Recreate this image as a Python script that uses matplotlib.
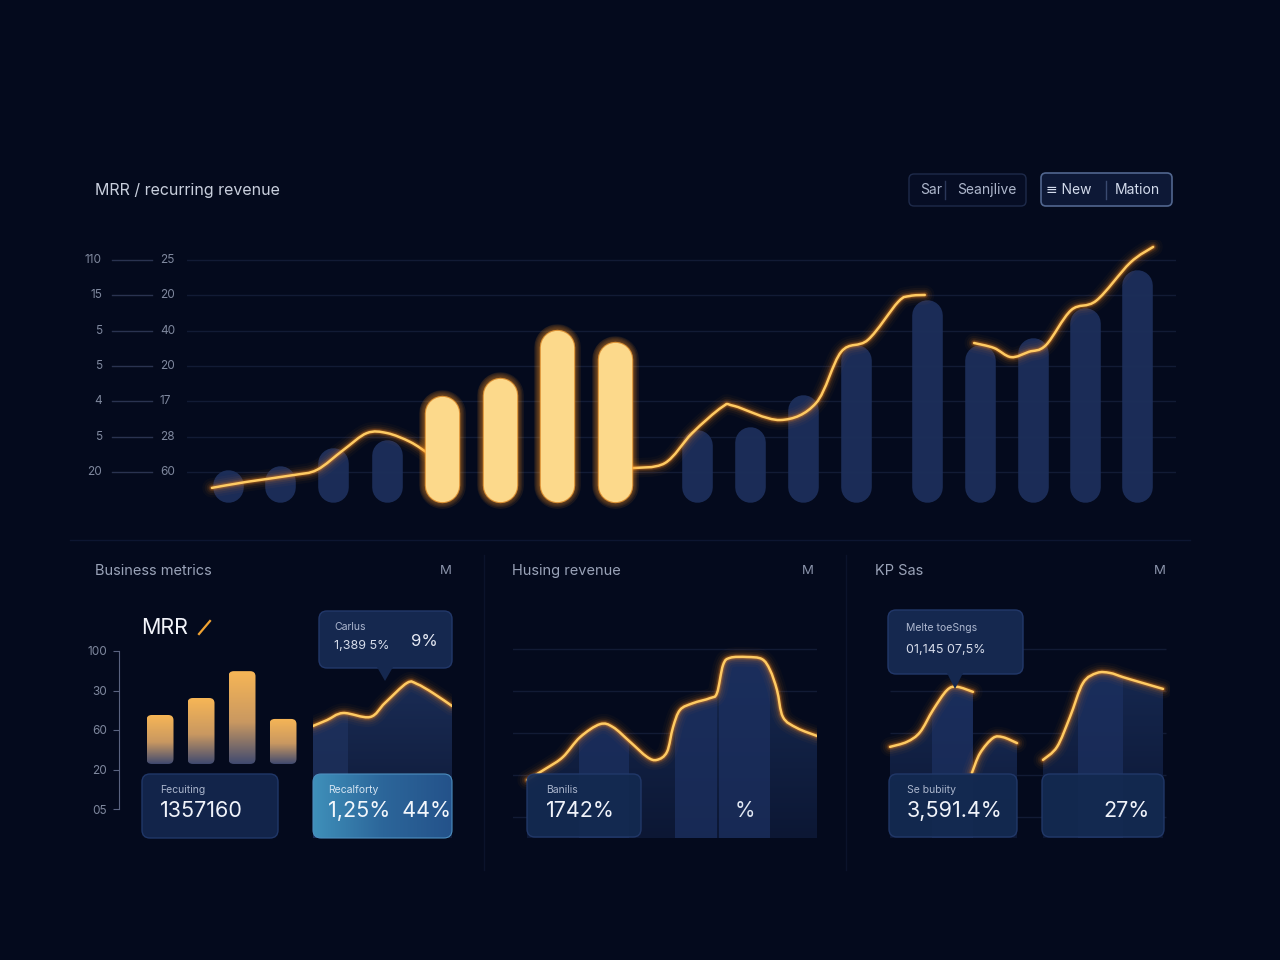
import numpy as np
import matplotlib
matplotlib.use("Agg")
from matplotlib import pyplot as plt
from matplotlib.patches import FancyBboxPatch, Polygon, PathPatch
from matplotlib.path import Path
from matplotlib.colors import LinearSegmentedColormap

plt.rcParams['font.family'] = ['Inter', 'DejaVu Sans']

# ---------------- data ----------------
# main chart: MRR bars (period positions have gaps) + trend line
periods = [0, 0.97, 1.96, 2.97, 4.0, 5.07, 6.14, 7.22, 8.75, 9.74, 10.73, 11.72, 13.04, 14.03, 15.02, 15.99, 16.96]
mrr = [1.0, 1.17, 1.68, 1.9, 3.15, 3.66, 5.02, 4.68, 2.19, 2.27, 3.18, 4.6, 5.87, 4.6, 4.79, 5.65, 6.72]
highlight = [False, False, False, False, True, True, True, True,
             False, False, False, False, False, False, False, False, False]
trend_x = [-0.30, 0.35, 1.21, 1.66, 2.15, 2.59, 2.97, 3.40, 3.72, np.nan,
           7.54, 8.15, 8.66, 9.22, 9.44, 10.30, 10.97, 11.44, 11.94, 12.50, 12.72, 13.00, np.nan,
           13.92, 14.29, 14.61, 14.94, 15.26, 15.73, 16.20, 16.83, 17.26]
trend_y = [0.55, 0.72, 0.91, 1.06, 1.62, 2.10, 2.10, 1.85, 1.54, np.nan,
           1.11, 1.25, 2.10, 2.84, 2.87, 2.47, 2.95, 4.40, 4.74, 5.81, 5.98, 6.01, np.nan,
           4.65, 4.51, 4.25, 4.40, 4.59, 5.58, 5.85, 6.92, 7.37]
outer_ticks = ['110', '15', '5', '5', '4', '5', '20']
inner_ticks = ['25', '20', '40', '20', '17', '28', '60']

# panel 1: business metrics
biz_bars = [2.38, 2.81, 3.49, 2.28]
biz_base = 1.14
biz_ticks = ['05', '20', '60', '30', '100']
carlus_x = [0, 1.01, 2.16, 4.10, 5.18, 6.76, 7.48, 8.63, 10.0]
carlus_y = [6.67, 7.02, 7.44, 7.20, 8.04, 9.23, 9.17, 8.63, 7.86]

# panel 2: husing revenue
husing_x = [0.92, 2.24, 3.29, 4.41, 5.72, 6.58, 7.70, 8.82, 9.47, 10.13, 10.53, 10.99, 11.84,
            12.96, 13.42, 13.82, 14.28, 15.39, 16.38, 16.91, 17.37, 17.76, 18.68, 20.0]
husing_y = [1.88, 2.17, 2.43, 2.90, 3.21, 3.14, 2.79, 2.43, 2.36, 2.55, 3.14, 3.55, 3.71,
            3.83, 3.95, 4.62, 4.79, 4.81, 4.76, 4.50, 4.02, 3.38, 3.12, 2.93]

# panel 3: KP Sas
kp1_x = [0.69, 1.86, 2.76, 3.66, 4.62, 5.31, 6.41]
kp1_y = [2.67, 2.79, 3.02, 3.55, 4.02, 4.10, 3.98]
kp2_x = [6.34, 6.90, 7.79, 8.48, 9.45]
kp2_y = [2.05, 2.52, 2.88, 2.90, 2.76]
kp3_x = [11.24, 12.21, 13.10, 14.0, 14.97, 15.86, 16.76, 17.93, 19.52]
kp3_y = [2.36, 2.67, 3.38, 4.19, 4.43, 4.43, 4.33, 4.21, 4.05]

# ---------------- style ----------------
W, H = 1280, 960
BG = '#040a1d'
GRID = '#121b35'
BLUE_BAR = '#1d2f5b'
TXT = '#c9cfdd'
MUTED = '#7f889e'
CARD = '#12244a'
CARD_EDGE = '#203768'

fig = plt.figure(figsize=(12.8, 9.6), dpi=100)
fig.patch.set_facecolor(BG)


def px_box(x0, y0, x1, y1):
    return [x0 / W, 1 - y1 / H, (x1 - x0) / W, (y1 - y0) / H]


def smooth_path(xs, ys):
    # catmull-rom through the read points, drawn as cubic beziers
    pts = np.column_stack([xs, ys]).astype(float)
    n = len(pts)
    verts, codes = [pts[0]], [Path.MOVETO]
    for i in range(n - 1):
        p0 = pts[i - 1] if i > 0 else pts[i]
        p1, p2 = pts[i], pts[i + 1]
        p3 = pts[i + 2] if i + 2 < n else pts[i + 1]
        verts += [p1 + (p2 - p0) / 6, p2 - (p3 - p1) / 6, p2]
        codes += [Path.CURVE4] * 3
    return Path(verts, codes)


def split_nan(xs, ys):
    segs, cx, cy = [], [], []
    for x, y in zip(xs, ys):
        if np.isnan(x):
            segs.append((cx, cy)); cx, cy = [], []
        else:
            cx.append(x); cy.append(y)
    segs.append((cx, cy))
    return segs


def glow_line(ax, xs, ys, z=5, core='#ffcb63', glow='#ff8a1a', lw=1.8):
    for sx, sy in split_nan(xs, ys):
        path = smooth_path(sx, sy)
        for w, a in [(14, 0.03), (10.5, 0.05), (7.5, 0.08), (5, 0.14), (3.4, 0.25)]:
            ax.add_patch(PathPatch(path, fc='none', ec=glow, lw=w, alpha=a,
                                   capstyle='round', joinstyle='round', zorder=z))
        ax.add_patch(PathPatch(path, fc='none', ec=core, lw=lw,
                               capstyle='round', joinstyle='round', zorder=z + 0.1))


def gradient_area(ax, xs, ys, y0, c_top, c_bot, z=1):
    p = smooth_path(xs, ys)
    verts = list(p.vertices) + [(xs[-1], y0), (xs[0], y0), (xs[0], ys[0])]
    codes = list(p.codes) + [Path.LINETO, Path.LINETO, Path.CLOSEPOLY]
    path = Path(verts, codes)
    cmap = LinearSegmentedColormap.from_list('g', [c_bot, c_top])
    im = ax.imshow(np.linspace(0, 1, 256).reshape(-1, 1), cmap=cmap, aspect='auto',
                   origin='lower', extent=(min(xs), max(xs), y0, max(ys) + 0.2), zorder=z)
    im.set_clip_path(path, ax.transData)
    return path


def card(ax, x0, y0, x1, y1, fc=CARD, ec=CARD_EDGE, r=8, lw=1.0, alpha=1.0, z=2):
    p = FancyBboxPatch((x0 + r, y0 + r), x1 - x0 - 2 * r, y1 - y0 - 2 * r,
                       boxstyle=f'round,pad={r}', fc=fc, ec=ec, lw=lw, alpha=alpha, zorder=z)
    ax.add_patch(p)
    return p


# background decoration layer
back = fig.add_axes([0, 0, 1, 1], zorder=0)
back.set_xlim(0, W); back.set_ylim(H, 0); back.axis('off')
back.plot([70, 1190], [540, 540], color='#0d1631', lw=1)
back.plot([484, 484], [555, 870], color='#0b132b', lw=1)
back.plot([846, 846], [555, 870], color='#0b132b', lw=1)

# ---------------- main chart ----------------
ax = fig.add_axes(px_box(187, 240, 1176, 510), zorder=1)
ax.set_facecolor('none'); ax.axis('off')
ux, uy = 53.6, 35.33  # pixels per data unit
ax.set_xlim((187 - 228) / ux, (1176 - 228) / ux)
ax.set_ylim((507.3 - 510) / uy, (507.3 - 240) / uy)

levels = list(range(7, 0, -1))
for lvl, o, i in zip(levels, outer_ticks, inner_ticks):
    ax.axhline(lvl, color=GRID, lw=1, zorder=0)
    ax.text((102 - 228) / ux, lvl, o, color=MUTED, fontsize=8.5, ha='right', va='center', clip_on=False)
    ax.plot([(112 - 228) / ux, (152 - 228) / ux], [lvl, lvl], color='#2a3350', lw=1, clip_on=False)
    ax.text((160 - 228) / ux, lvl, i, color=MUTED, fontsize=8.5, ha='left', va='center', clip_on=False)

blue_pt = 22.0
gold_pt = 24.0
base = 0.15
for x, v, hl in zip(periods, mrr, highlight):
    bw = gold_pt if hl else blue_pt
    r = bw / 72 * 100 / 2 / uy
    y0 = base + r
    y1 = max(v - r, y0 + 0.06)
    if hl:
        for k in range(6, 0, -1):
            ax.plot([x, x], [y0, y1], color='#ff9820', lw=bw + 1.6 * k, alpha=0.09,
                    solid_capstyle='round', zorder=4, clip_on=False)
        ax.plot([x, x], [y0, y1], color='#f7a43a', lw=bw + 1.5, alpha=0.8,
                solid_capstyle='round', zorder=4.1, clip_on=False)
        ax.plot([x, x], [y0, y1], color='#fcd98b', lw=bw, solid_capstyle='round', zorder=4.2, clip_on=False)
    else:
        ax.plot([x, x], [y0, y1], color=BLUE_BAR, lw=bw, alpha=0.95, solid_capstyle='round',
                zorder=2, clip_on=False)

glow_line(ax, trend_x, trend_y, z=3)

# ---------------- panel 1: business metrics ----------------
a1 = fig.add_axes(px_box(119, 640, 305, 820), zorder=1)
a1.set_facecolor('none')
for s in ['top', 'right', 'bottom']:
    a1.spines[s].set_visible(False)
a1.spines['left'].set_color('#5a6380')
a1.spines['left'].set_bounds(0, 4)
a1.set_xticks([])
a1.set_yticks(range(5))
a1.set_yticklabels(biz_ticks)
a1.tick_params(axis='y', colors='#5a6380', labelcolor=MUTED, labelsize=8.5, length=4.5, pad=4)

bar_cmap = LinearSegmentedColormap.from_list('ob', [(0, '#404a70'), (0.45, '#c99861'), (1, '#f7b656')])
bw = 27 / 41
for i, v in enumerate(biz_bars):
    p = FancyBboxPatch((i - bw / 2, biz_base), bw, v - biz_base,
                       boxstyle='round,pad=0,rounding_size=0.13', fc='none', ec='none')
    a1.add_patch(p)
    im = a1.imshow(np.linspace(0, 1, 256).reshape(-1, 1), cmap=bar_cmap, aspect='auto', origin='lower',
                   extent=(i - bw / 2, i + bw / 2, biz_base, v), zorder=2)
    im.set_clip_path(p)
a1.set_xlim((119 - 160) / 41, (305 - 160) / 41)
a1.set_ylim((809 - 820) / 39.5, (809 - 640) / 39.5)

a1b = fig.add_axes(px_box(313, 670, 452, 838), zorder=1)
a1b.axis('off')
path = gradient_area(a1b, carlus_x, carlus_y, 0, '#1a2c55', '#0d1835')
col = a1b.bar([1.25], [10], width=2.5, color='#1f3360', alpha=0.7, zorder=1.5)
col[0].set_clip_path(path, a1b.transData)
glow_line(a1b, carlus_x, carlus_y, z=3)
a1b.set_xlim(0, 10); a1b.set_ylim(0, 10)

# ---------------- panel 2: husing revenue ----------------
a2 = fig.add_axes(px_box(513, 640, 817, 838), zorder=1)
a2.axis('off')
for lvl in range(1, 6):
    a2.axhline(lvl, color=GRID, lw=1, zorder=0)
path = gradient_area(a2, husing_x, husing_y, 0.5, '#172a52', '#0c1734')
cols = a2.bar([5.99, 12.04, 15.23], [6, 6, 6], width=[3.29, 2.76, 3.36], bottom=0.5,
              color='#1c3060', alpha=0.75, zorder=1.5)
for c in cols:
    c.set_clip_path(path, a2.transData)
glow_line(a2, husing_x, husing_y, z=3)
a2.set_xlim(0, 20); a2.set_ylim(0.5, (859 - 640) / 42)

# ---------------- panel 3: KP Sas ----------------
a3 = fig.add_axes(px_box(880, 640, 1170, 838), zorder=1)
a3.axis('off')
a3.hlines(range(1, 6), 0.69, 19.7, color=GRID, lw=1, zorder=0)
for kx, ky in [(kp1_x, kp1_y), (kp2_x, kp2_y), (kp3_x, kp3_y)]:
    path = gradient_area(a3, kx, ky, 0.5, '#162850', '#0c1734')
    cols = a3.bar([5.0, 15.21], [6, 6], width=[2.82, 3.1], bottom=0.5,
                  color='#1c3060', alpha=0.75, zorder=1.5)
    for c in cols:
        c.set_clip_path(path, a3.transData)
    glow_line(a3, kx, ky, z=3)
a3.set_xlim(0, 20); a3.set_ylim(0.5, (859 - 640) / 42)

# ---------------- front decoration: text, cards, buttons ----------------
front = fig.add_axes([0, 0, 1, 1], zorder=5)
front.set_xlim(0, W); front.set_ylim(H, 0); front.axis('off')

front.text(95, 190, 'MRR / recurring revenue', color=TXT, fontsize=11.5, va='center')

# buttons
card(front, 909, 174, 1026, 206, fc='#060d24', ec='#1e2a4a', r=5)
front.text(931, 190, 'Sar', color='#aeb7cc', fontsize=10, ha='center', va='center')
front.plot([945, 945], [181, 199], color='#2a3658', lw=1)
front.text(987, 190, 'Seanjlive', color='#aeb7cc', fontsize=10, ha='center', va='center')
card(front, 1041, 173, 1172, 206, fc='#0d1836', ec='#51668f', r=5, lw=1.2)
front.text(1069, 190, '\u2261 New', color='#d3dbec', fontsize=10, ha='center', va='center')
front.plot([1106, 1106], [181, 199], color='#3a4a70', lw=1)
front.text(1137, 190, 'Mation', color='#d3dbec', fontsize=10, ha='center', va='center')

# panel headers
for x, t in [(95, 'Business metrics'), (512, 'Husing revenue'), (875, 'KP Sas')]:
    front.text(x, 571, t, color='#9aa3b8', fontsize=10.5, va='center')
for x in [446, 808, 1160]:
    front.text(x, 571, 'M', color='#8a93aa', fontsize=9.5, ha='center', va='center')

front.text(141, 628, 'MRR', color='#f2f4fa', fontsize=15.5, va='center')
front.plot([199, 210], [634, 621], color='#f0a232', lw=1.6)

# panel 1 tooltip + cards
card(front, 319, 611, 452, 668, fc='#15284f', ec='#22386a', r=8)
front.add_patch(Polygon([(377, 667), (393, 667), (385, 681)], closed=True, fc='#15284f', ec='none', zorder=3))
front.text(334, 627, 'Carlus', color='#aeb8d0', fontsize=7.5, va='center')
front.text(334, 646, '1,389 5%', color='#d6dcea', fontsize=9, va='center')
front.text(411, 641, '9%', color='#e6eaf4', fontsize=12, va='center')

card(front, 142, 774, 278, 838)
front.text(160, 790, 'Fecuiting', color='#aab5cc', fontsize=7.5, va='center')
front.text(160, 811, '1357160', color='#f0f3fa', fontsize=15.5, va='center')

p = card(front, 313, 774, 452, 838, fc='none', ec='#4d8fc0', lw=0.8)
hcmap = LinearSegmentedColormap.from_list('h', ['#3f90ba', '#2c669a', '#24528a'])
im = front.imshow(np.linspace(0, 1, 256).reshape(1, -1), cmap=hcmap, aspect='auto',
                  extent=(313, 452, 838, 774), zorder=1.9)
im.set_clip_path(p)
front.text(328, 790, 'Recalforty', color='#d4e4f2', fontsize=7.5, va='center', zorder=4)
front.text(328, 811, '1,25%  44%', color='#f3f7fc', fontsize=15.5, va='center', zorder=4)

# panel 2 cards
card(front, 527, 774, 641, 837, fc='#132950', ec='#22396a', alpha=0.95)
front.text(546, 790, 'Banilis', color='#aab5cc', fontsize=7.5, va='center', zorder=4)
front.text(546, 811, '1742%', color='#f0f3fa', fontsize=15.5, va='center', zorder=4)
front.text(745, 811, '%', color='#e0e6f2', fontsize=15, ha='center', va='center', zorder=4)

# panel 3 tooltip + cards
card(front, 888, 610, 1023, 674, fc='#15284f', ec='#22386a', r=8)
front.add_patch(Polygon([(947, 673), (963, 673), (955, 689)], closed=True, fc='#15284f', ec='none', zorder=3))
front.text(906, 628, 'Melte toeSngs', color='#aeb8d0', fontsize=7.5, va='center')
front.text(906, 650, '01,145 07,5%', color='#d6dcea', fontsize=9, va='center')

card(front, 889, 774, 1017, 837, fc='#132950', ec='#22396a', alpha=0.95)
front.text(907, 790, 'Se bubiity', color='#aab5cc', fontsize=7.5, va='center', zorder=4)
front.text(907, 811, '3,591.4%', color='#f0f3fa', fontsize=15.5, va='center', zorder=4)
card(front, 1042, 774, 1164, 837, fc='#132950', ec='#22396a', alpha=0.95)
front.text(1150, 811, '27%', color='#f0f3fa', fontsize=15.5, ha='right', va='center', zorder=4)

front.set_xlim(0, W); front.set_ylim(H, 0)

fig.savefig('out.png', dpi=100, facecolor=BG)
